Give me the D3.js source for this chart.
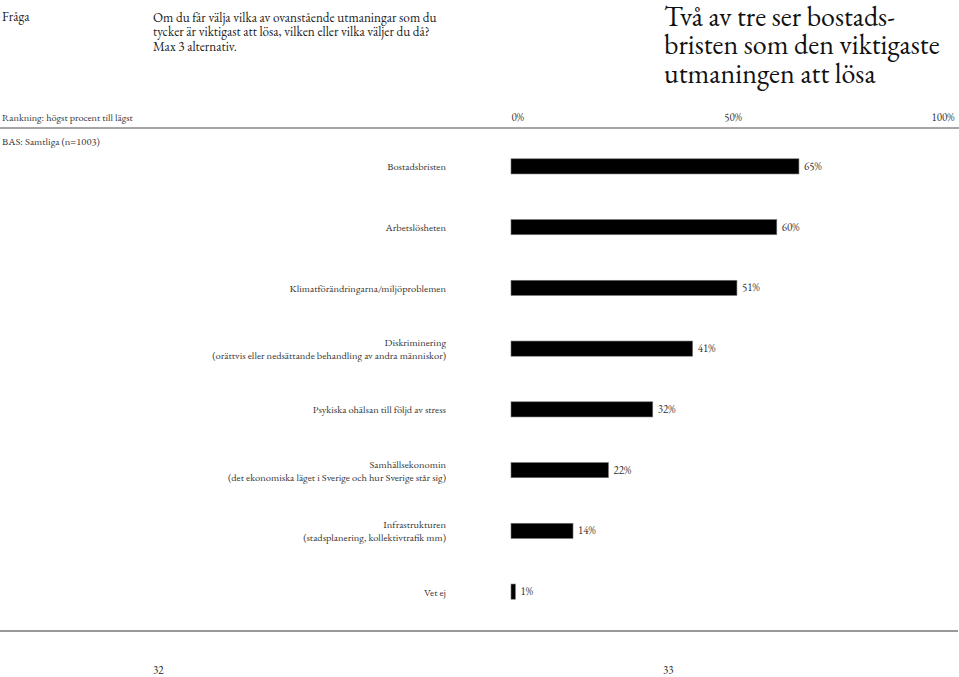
<!DOCTYPE html>
<html>
<head>
<meta charset="utf-8">
<script src="https://cdn.jsdelivr.net/npm/d3@7.9.0/dist/d3.min.js"></script>
<style>
  body { margin: 0; background: #fff; }
  svg { display: block; }
  svg text { font-family: "EB Garamond", "Liberation Serif", serif; }
</style>
</head>
<body>
<svg id="chart" width="959" height="677"></svg>
<script>
// data
const categories = [
  ["Bostadsbristen"],
  ["Arbetslösheten"],
  ["Klimatförändringarna/miljöproblemen"],
  ["Diskriminering", "(orättvis eller nedsättande behandling av andra människor)"],
  ["Psykiska ohälsan till följd av stress"],
  ["Samhällsekonomin", "(det ekonomiska läget i Sverige och hur Sverige står sig)"],
  ["Infrastrukturen", "(stadsplanering, kollektivtrafik mm)"],
  ["Vet ej"]
];
const values = [65, 60, 51, 41, 32, 22, 14, 1];
const tickValues = [0, 50, 100];
const titleLines = ["Två av tre ser bostads-", "bristen som den viktigaste", "utmaningen att lösa"];
const questionLines = [
  "Om du får välja vilka av ovanstående utmaningar som du",
  "tycker är viktigast att lösa, vilken eller vilka väljer du då?",
  "Max 3 alternativ."
];

const svg = d3.select("#chart");

// header texts
svg.append("text").attr("x", 2).attr("y", 21).attr("font-size", 13.2).attr("fill", "#222").text("Fråga");
svg.append("g").selectAll("text").data(questionLines).join("text")
  .attr("x", 153).attr("y", (d, i) => 22 + i * 14.3)
  .attr("font-size", 13.2).attr("fill", "#222").text(d => d);

svg.append("g").selectAll("text").data(titleLines).join("text")
  .attr("x", 664).attr("y", (d, i) => 25.5 + i * 28.5)
  .attr("font-size", 28).attr("fill", "#111").text(d => d);

svg.append("text").attr("x", 2).attr("y", 121).attr("font-size", 10.3).attr("fill", "#333").text("Rankning: högst procent till lägst");
svg.append("text").attr("x", 2).attr("y", 145).attr("font-size", 10.5).attr("fill", "#333").text("BAS: Samtliga (n=1003)");

// rules
svg.append("line").attr("x1", 0).attr("x2", 959).attr("y1", 128).attr("y2", 128)
  .attr("stroke", "#888").attr("stroke-width", 1.5);
svg.append("line").attr("x1", 0).attr("x2", 958).attr("y1", 631).attr("y2", 631)
  .attr("stroke", "#999").attr("stroke-width", 2);

// scales
const x = d3.scaleLinear().domain([0, 100]).range([511, 954]);
const y = d3.scaleBand().domain(d3.range(values.length)).range([136, 622]).paddingInner(0.75).paddingOuter(0.375);

// axis ticks (top)
const axis = d3.axisTop(x).tickValues(tickValues).tickSize(0).tickFormat(d => d + "%");
const gAxis = svg.append("g").attr("transform", "translate(0,121)").call(axis)
  .attr("font-family", null).attr("font-size", 11);
gAxis.select(".domain").remove();
gAxis.selectAll("text")
  .attr("dy", 0).attr("y", 0).attr("fill", "#333")
  .attr("text-anchor", d => d === 0 ? "start" : d === 100 ? "end" : "middle");

// bars
svg.append("g").selectAll("rect").data(values).join("rect")
  .attr("x", x(0))
  .attr("y", (d, i) => y(i))
  .attr("width", d => x(d) - x(0))
  .attr("height", y.bandwidth())
  .attr("fill", "#000")
  .attr("stroke", "#777").attr("stroke-width", 0.6);

// value labels
svg.append("g").selectAll("text").data(values).join("text")
  .attr("x", d => x(d) + 5)
  .attr("y", (d, i) => y(i) + y.bandwidth() / 2 + 3.5)
  .attr("font-size", 11).attr("fill", "#333")
  .text(d => d + "%");

// category labels
const gLab = svg.append("g").selectAll("text").data(categories).join("text")
  .attr("text-anchor", "end").attr("font-size", 10.5).attr("fill", "#333")
  .attr("transform", (d, i) => {
    const c = y(i) + y.bandwidth() / 2;
    const base = d.length === 1 ? c + 4 : c - 2.5;
    return `translate(446,${base})`;
  });
gLab.selectAll("tspan").data(d => d).join("tspan")
  .attr("x", 0).attr("dy", (d, i) => i === 0 ? 0 : 13)
  .text(d => d);

// page numbers
svg.append("text").attr("x", 153).attr("y", 674).attr("font-size", 11).attr("fill", "#222").text("32");
svg.append("text").attr("x", 663).attr("y", 674).attr("font-size", 11).attr("fill", "#222").text("33");
</script>
</body>
</html>
